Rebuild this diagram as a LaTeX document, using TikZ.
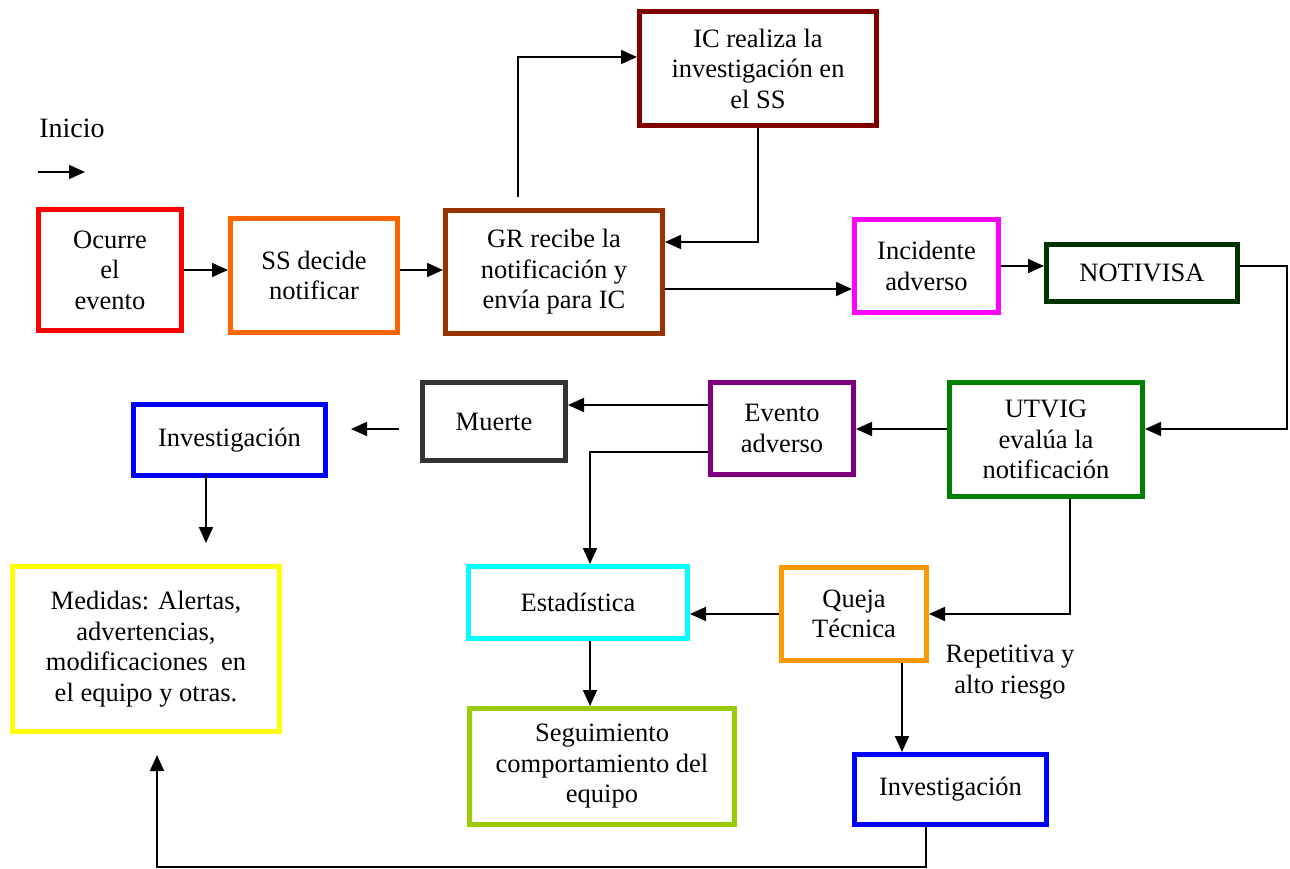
\documentclass[tikz,border=0pt]{standalone}
\usepackage{fontspec}
\setmainfont{Liberation Serif}
\usetikzlibrary{arrows.meta,calc}
\definecolor{rojo}{HTML}{FF0000}
\definecolor{naranja}{HTML}{FF6600}
\definecolor{cafe}{HTML}{993300}
\definecolor{granate}{HTML}{800000}
\definecolor{rosa}{HTML}{FF00FF}
\definecolor{verdeosc}{HTML}{003300}
\definecolor{verde}{HTML}{008000}
\definecolor{morado}{HTML}{800080}
\definecolor{gris}{HTML}{333333}
\definecolor{azul}{HTML}{0000FF}
\definecolor{amarillo}{HTML}{FFFF00}
\definecolor{cian}{HTML}{00FFFF}
\definecolor{ambar}{HTML}{FF9900}
\definecolor{oliva}{HTML}{99CC00}
\begin{document}
\begin{tikzpicture}[x=1pt,y=-1pt,>={Triangle[length=16pt,width=14pt]},line cap=butt,
	font=\fontsize{26.5}{30.5}\selectfont,
	caja/.style={draw=#1,line width=5pt,line join=miter,align=center,inner sep=2pt},
	flecha/.style={->,line width=1.8pt}]
	\useasboundingbox (0,0) rectangle (1290,869);
	% cajas: nombre/color/x/y/ancho/alto/texto
	\foreach \nom/\col/\cx/\cy/\w/\h/\txt in {
		ocurre/rojo/110/270/143/121/{Ocurre\\el\\evento},
		ss/naranja/314/275.5/167/114/{SS decide\\notificar},
		gr/cafe/554/272/217/123/{GR recibe la\\notificación y\\envía para IC},
		ic/granate/758/68.5/237/114/{IC realiza la\\investigación en\\el SS},
		incid/rosa/926.5/266/144/93/{Incidente\\adverso},
		notivisa/verdeosc/1142/273/191/57/{NOTIVISA},
		utvig/verde/1046/439.5/193/114/{UTVIG\\evalúa la\\notificación},
		evento/morado/782/428.5/143/92/{Evento\\adverso},
		muerte/gris/494/421.5/143/78/{Muerte},
		invA/azul/229.5/440/192/71/{Investigación},
		medidas/amarillo/146/649/267/165/{Medidas: Alertas,\\advertencias,\\modificaciones\ \ en\\el equipo y otras.},
		estad/cian/578/602.5/219/72/{Estadística},
		queja/ambar/854/614/145/93/{Queja\\Técnica},
		seguim/oliva/602/766.5/265/116/{Seguimiento\\comportamiento del\\equipo},
		invB/azul/950.5/789.5/192/70/{Investigación}}
		\node[caja=\col,minimum width=\w pt,minimum height=\h pt] (\nom) at (\cx,\cy) {\txt};
	\node[font=\fontsize{28}{32}\selectfont] (inicio) at (72,128) {Inicio};
	\node[align=center] (repet) at (1010,672) {Repetitiva y\\alto riesgo};
	\path
	(38,172) coordinate (I0)
	(85,172) coordinate (I1)
	(518,197) coordinate (G0)
	(1287,266) coordinate (N1)
	(399,429) coordinate (M0)
	(351,429) coordinate (M1)
	(206,474) coordinate (A0)
	(206,543) coordinate (A1)
	(157,867) coordinate (B1)
	(157,755) coordinate (B2)
	;
	\draw[flecha] (I0)--(I1);
	\draw[flecha] (ocurre.east)--(ocurre.east -| ss.west);
	\draw[flecha] (ss.east |- ocurre.east)--(ocurre.east -| gr.west);
	\draw[flecha] (G0) |- ([yshift=11.5pt]ic.west);
	\draw[flecha] (ic.south) |- ([yshift=30pt]gr.east);
	\draw[flecha] ([yshift=-17pt]gr.east)--([yshift=-17pt]gr.east -| incid.west);
	\draw[flecha] (incid.east)--(incid.east -| notivisa.west);
	\draw[flecha] (notivisa.east |- N1)--(N1) |- ([yshift=10.5pt]utvig.east);
	\draw[flecha] ([yshift=10.5pt]utvig.west)--([yshift=10.5pt]utvig.west -| evento.east);
	\draw[flecha] ([yshift=23.5pt]evento.west)--([yshift=23.5pt]evento.west -| muerte.east);
	\draw[flecha] ([yshift=-23.5pt]evento.west) -| ([xshift=12pt]estad.north);
	\draw[flecha] (M0)--(M1);
	\draw[flecha] (A0)--(A1);
	\draw[flecha] ([xshift=24pt]utvig.south) |- (queja.east);
	\draw[flecha] (queja.west)--(queja.west -| estad.east);
	\draw[flecha] ([xshift=12pt]estad.south)--([xshift=12pt]estad.south |- seguim.north);
	\draw[flecha] ([xshift=48pt]queja.south)--([xshift=48pt]queja.south |- invB.north);
	\draw[flecha] ([xshift=-24.5pt]invB.south) |- (B1)--(B2);
\end{tikzpicture}
\end{document}
